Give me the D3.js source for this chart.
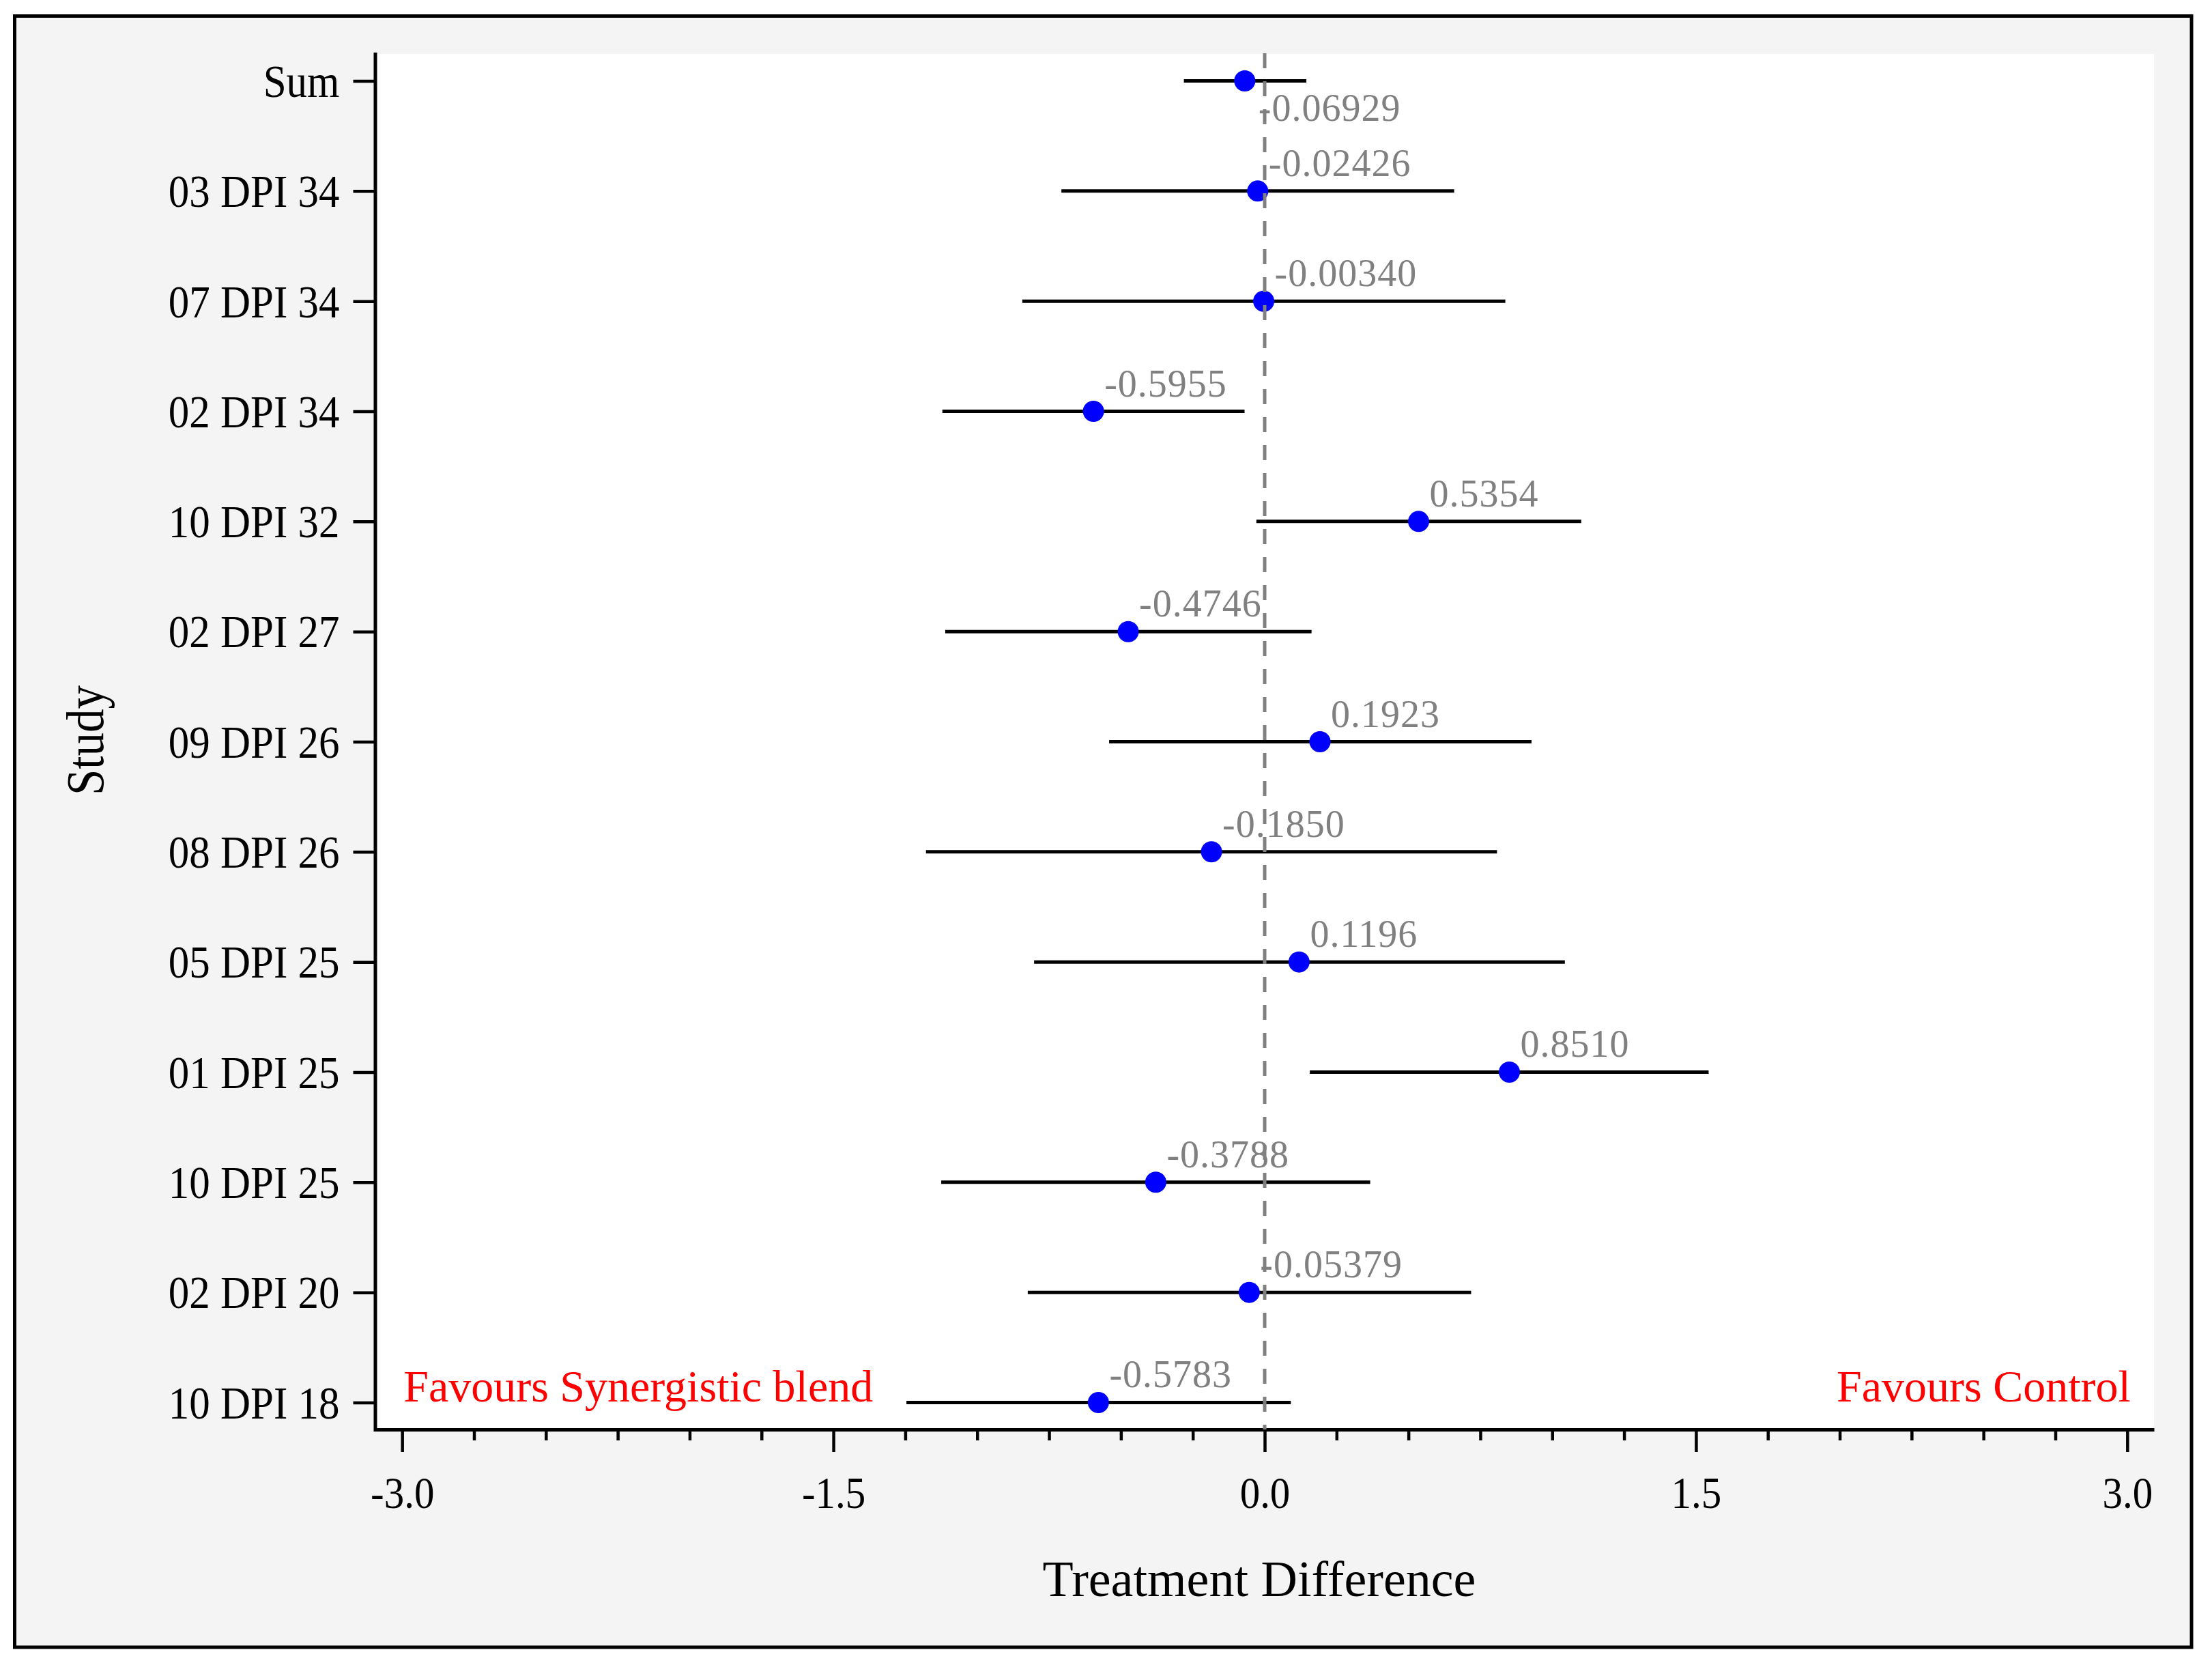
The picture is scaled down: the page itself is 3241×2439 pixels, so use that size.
<!DOCTYPE html>
<html>
<head>
<meta charset="utf-8">
<script src="https://cdn.jsdelivr.net/npm/d3@7"></script>
<style>
  html, body { margin: 0; padding: 0; background: #ffffff; }
  svg { display: block; }
  text { font-family: "Liberation Serif", "Times New Roman", "DejaVu Serif", serif; }
</style>
</head>
<body>
<svg id="chart" width="3241" height="2439"></svg>
<script>
// ---- Data ----
const studies = ["Sum", "03 DPI 34", "07 DPI 34", "02 DPI 34", "10 DPI 32", "02 DPI 27",
                 "09 DPI 26", "08 DPI 26", "05 DPI 25", "01 DPI 25", "10 DPI 25", "02 DPI 20", "10 DPI 18"];
const estimates = [-0.06929, -0.02426, -0.00340, -0.5955, 0.5354, -0.4746,
                   0.1923, -0.1850, 0.1196, 0.8510, -0.3788, -0.05379, -0.5783];
const lowerCI = [-0.281, -0.707, -0.843, -1.121, -0.029, -1.111,
                 -0.541, -1.178, -0.802, 0.157, -1.125, -0.824, -1.246];
const upperCI = [0.145, 0.659, 0.837, -0.070, 1.101, 0.163,
                 0.928, 0.808, 1.044, 1.544, 0.367, 0.718, 0.091];
const valueLabels = ["-0.06929", "-0.02426", "-0.00340", "-0.5955", "0.5354", "-0.4746",
                     "0.1923", "-0.1850", "0.1196", "0.8510", "-0.3788", "-0.05379", "-0.5783"];
const majorTicks = [-3.0, -1.5, 0.0, 1.5, 3.0];
const minorTicks = [-2.75, -2.5, -2.25, -2.0, -1.75, -1.25, -1.0, -0.75, -0.5, -0.25,
                    0.25, 0.5, 0.75, 1.0, 1.25, 1.75, 2.0, 2.25, 2.5, 2.75];
const xDomain = [-3.093, 3.093];
const xTitle = "Treatment Difference";
const yTitle = "Study";
const leftNote = "Favours Synergistic blend";
const rightNote = "Favours Control";

const rows = studies.map((s, i) => ({
  study: s, est: estimates[i], lo: lowerCI[i], hi: upperCI[i], label: valueLabels[i]
}));

// ---- Layout ----
const plot = { left: 550, right: 3156, top: 79, bottom: 2094 };
const serif = '"Liberation Serif", "Times New Roman", serif';

const svg = d3.select("#chart");

// outer frame
svg.append("rect")
  .attr("x", 21.5).attr("y", 23.5)
  .attr("width", 3189.5).attr("height", 2389.5)
  .attr("fill", "#f4f4f4").attr("stroke", "#000").attr("stroke-width", 5);

// plot background
svg.append("rect")
  .attr("x", plot.left).attr("y", plot.top)
  .attr("width", plot.right - plot.left).attr("height", plot.bottom - plot.top)
  .attr("fill", "#ffffff");

const x = d3.scaleLinear().domain(xDomain).range([plot.left, plot.right]);
const y = d3.scalePoint().domain(studies).range([plot.top, plot.bottom]).padding(0.245);

// ---- Axes ----
const xAxisMinor = d3.axisBottom(x).tickValues(minorTicks).tickSize(16).tickSizeOuter(0).tickFormat("");
const gxm = svg.append("g").attr("transform", `translate(0,${plot.bottom})`).call(xAxisMinor);
gxm.select(".domain").remove();
gxm.selectAll(".tick line").attr("stroke", "#000").attr("stroke-width", 4.5);

const xAxis = d3.axisBottom(x).tickValues(majorTicks).tickSize(33).tickSizeOuter(0)
  .tickPadding(28).tickFormat(d => d.toFixed(1));
const gx = svg.append("g").attr("transform", `translate(0,${plot.bottom})`).call(xAxis);
gx.select(".domain").attr("stroke", "#000").attr("stroke-width", 5);
gx.selectAll(".tick line").attr("stroke", "#000").attr("stroke-width", 4.5);
gx.selectAll(".tick text").attr("fill", "#000").attr("font-size", 59)
  .attr("transform", "scale(1,1.12)")
  .style("font-family", serif);

const yAxis = d3.axisLeft(y).tickSize(32).tickSizeOuter(0).tickPadding(20);
const gy = svg.append("g").attr("transform", `translate(${plot.left - 0.5},0)`).call(yAxis);
gy.select(".domain").attr("stroke", "#000").attr("stroke-width", 5)
  .attr("stroke-linecap", "square");
gy.selectAll(".tick line").attr("stroke", "#000").attr("stroke-width", 4.5);
gy.selectAll(".tick text").attr("fill", "#000").attr("font-size", 61).attr("dy", "0.34em")
  .attr("transform", "scale(1,1.1)")
  .style("font-family", serif);

// axis titles
svg.append("text")
  .attr("x", 1845).attr("y", 2338)
  .attr("text-anchor", "middle").attr("font-size", 74).attr("fill", "#000")
  .text(xTitle);

svg.append("text")
  .attr("transform", `translate(151,${(plot.top + plot.bottom) / 2 - 2}) rotate(-90) scale(1,1.12)`)
  .attr("text-anchor", "middle").attr("font-size", 69).attr("fill", "#000")
  .text(yTitle);

// ---- Marks ----
const g = svg.append("g");

g.selectAll("line.ci").data(rows).join("line")
  .attr("class", "ci")
  .attr("x1", d => x(d.lo)).attr("x2", d => x(d.hi))
  .attr("y1", d => y(d.study)).attr("y2", d => y(d.study))
  .attr("stroke", "#000").attr("stroke-width", 5);

g.selectAll("circle.pt").data(rows).join("circle")
  .attr("class", "pt")
  .attr("cx", d => x(d.est)).attr("cy", d => y(d.study))
  .attr("r", 15.5).attr("fill", "#0000ff");

g.selectAll("text.val").data(rows).join("text")
  .attr("class", "val")
  .attr("x", d => x(d.est) + (d.study === "Sum" ? 20 : 16))
  .attr("y", d => y(d.study) + (d.study === "Sum" ? 58 : -22))
  .attr("font-size", 56).attr("letter-spacing", 1)
  .attr("fill", "#808080")
  .text(d => d.label);

// favours notes
const lastY = y(studies[studies.length - 1]);
svg.append("text")
  .attr("x", x(-3) + 2).attr("y", lastY - 1)
  .attr("font-size", 66).attr("fill", "#ff0000")
  .text(leftNote);
svg.append("text")
  .attr("x", x(3) + 5).attr("y", lastY - 1)
  .attr("text-anchor", "end")
  .attr("font-size", 66).attr("fill", "#ff0000")
  .text(rightNote);

// reference line at 0 (drawn on top)
svg.append("line")
  .attr("x1", x(0)).attr("x2", x(0))
  .attr("y1", plot.top - 1).attr("y2", plot.bottom)
  .attr("stroke", "#808080").attr("stroke-width", 5)
  .attr("stroke-dasharray", "22,19");
</script>
</body>
</html>
